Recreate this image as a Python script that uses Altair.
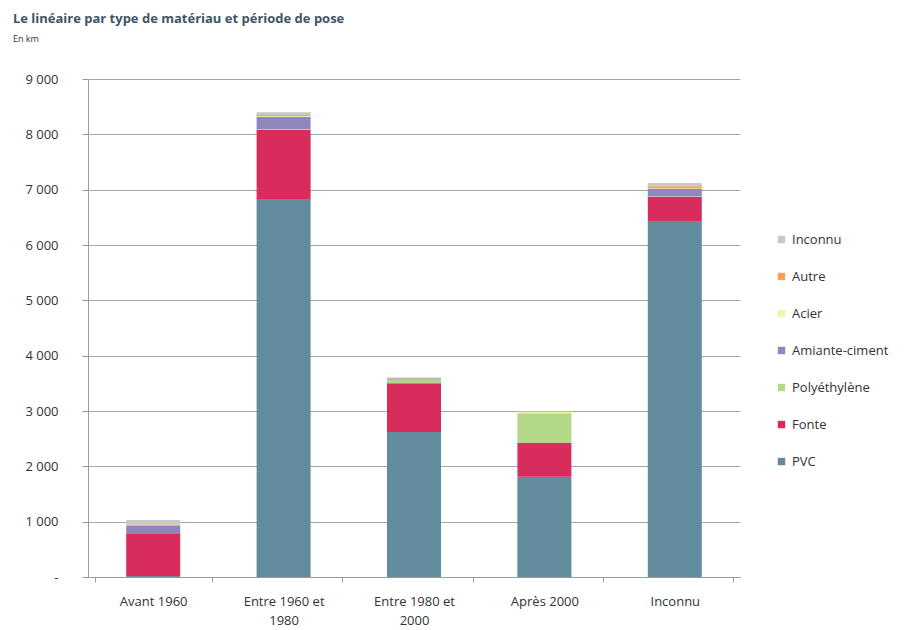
import altair as alt
import pandas as pd

periods = ["Avant 1960", "Entre 1960 et 1980", "Entre 1980 et 2000", "Après 2000", "Inconnu"]
materials = ["PVC", "Fonte", "Polyéthylène", "Amiante-ciment", "Acier", "Autre", "Inconnu"]
pvc = [20, 6830, 2620, 1810, 6420]
fonte = [770, 1250, 880, 610, 450]
polyethylene = [0, 10, 70, 540, 10]
amiante = [140, 230, 20, 0, 130]
acier = [0, 10, 10, 20, 10]
autre = [20, 20, 0, 0, 40]
inconnu = [80, 50, 10, 10, 60]
colors = {"PVC": "#618C9E", "Fonte": "#D82D5C", "Polyéthylène": "#B3D887",
          "Amiante-ciment": "#8D87BE", "Acier": "#F1F3A6", "Autre": "#F2A25E",
          "Inconnu": "#C9C9C9"}

series = [pvc, fonte, polyethylene, amiante, acier, autre, inconnu]
rows = []
for mi, (m, vals) in enumerate(zip(materials, series)):
    for p, v in zip(periods, vals):
        rows.append({"periode": p, "materiau": m, "km": v, "ordre": mi})
df = pd.DataFrame(rows)

legend_order = materials[::-1]

label_expr = ("datum.label == 'Entre 1960 et 1980' ? ['Entre 1960 et', '1980'] : "
              "datum.label == 'Entre 1980 et 2000' ? ['Entre 1980 et', '2000'] : datum.label")

chart = alt.Chart(df).mark_bar(size=54).encode(
    x=alt.X("periode:N", sort=periods, title=None,
            axis=alt.Axis(labelAngle=0, labelExpr=label_expr, tickBand="extent",
                          labelFontSize=13, labelColor="#333333", domainColor="#9A9A9A",
                          tickColor="#9A9A9A", tickSize=5, labelPadding=13,
                          labelFont="Open Sans", labelLineHeight=19)),
    y=alt.Y("km:Q", stack="zero", title=None,
            scale=alt.Scale(domain=[0, 9000]),
            axis=alt.Axis(values=list(range(0, 9001, 1000)),
                          labelExpr="datum.value == 0 ? '-' : replace(format(datum.value, ','), ',', ' ')",
                          labelFontSize=13, labelColor="#333333", labelFont="Open Sans",
                          gridColor="#A6A6A6", domainColor="#9A9A9A", tickColor="#9A9A9A",
                          tickSize=6, labelPadding=24)),
    color=alt.Color("materiau:N",
                    scale=alt.Scale(domain=legend_order, range=[colors[m] for m in legend_order]),
                    legend=alt.Legend(title=None, orient="none", legendX=687, legendY=154,
                                      symbolType="square", symbolSize=55, symbolStrokeWidth=0,
                                      labelFontSize=13, labelColor="#333333", labelFont="Open Sans",
                                      labelOffset=4, rowPadding=23)),
    order=alt.Order("ordre:Q", sort="ascending"),
).properties(
    width=652, height=498,
    title=alt.TitleParams(text="Le linéaire par type de matériau et période de pose",
                          subtitle="En km", anchor="start", dx=-12, offset=29,
                          fontSize=13, font="Open Sans", fontWeight="bold", color="#3E5566",
                          subtitleFontSize=9, subtitleColor="#333333", subtitleFont="Open Sans",
                          subtitlePadding=9),
    autosize=alt.AutoSizeParams(type="none"),
    padding={"left": 80, "top": 71, "right": 164, "bottom": 52},
).configure_view(stroke=None)

chart.save("out.html", embed_options={"renderer": "svg", "actions": False})
